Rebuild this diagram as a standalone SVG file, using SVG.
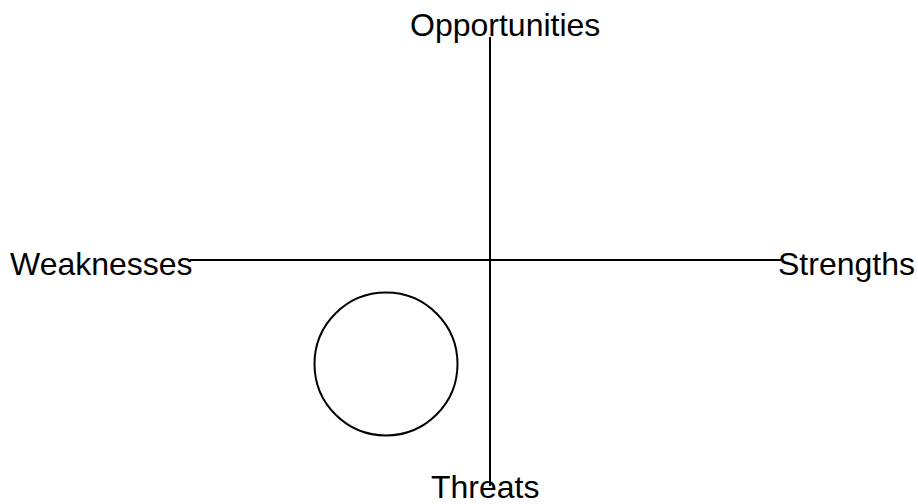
<svg xmlns="http://www.w3.org/2000/svg" width="918" height="504" viewBox="0 0 918 504">
<style>
.l{stroke:#000;stroke-width:2;fill:none}
.t{font-family:"Liberation Sans",Arial,sans-serif;font-size:32px;fill:#000}
</style>
<rect width="918" height="504" fill="#fff"/>
<g id="connectors">
<line class="l" x1="490" y1="37" x2="490" y2="486"/>
<line class="l" x1="190" y1="260" x2="782" y2="260"/>
</g>
<g id="circle"><circle class="l" cx="386" cy="364" r="71.5"/></g>
<g id="opportunities"><text class="t" x="410" y="36">Opportunities</text></g>
<g id="weaknesses"><text class="t" x="10" y="275">Weaknesses</text></g>
<g id="strengths"><text class="t" x="778" y="275">Strengths</text></g>
<g id="threats"><text class="t" x="431" y="498">Threats</text></g>
</svg>
